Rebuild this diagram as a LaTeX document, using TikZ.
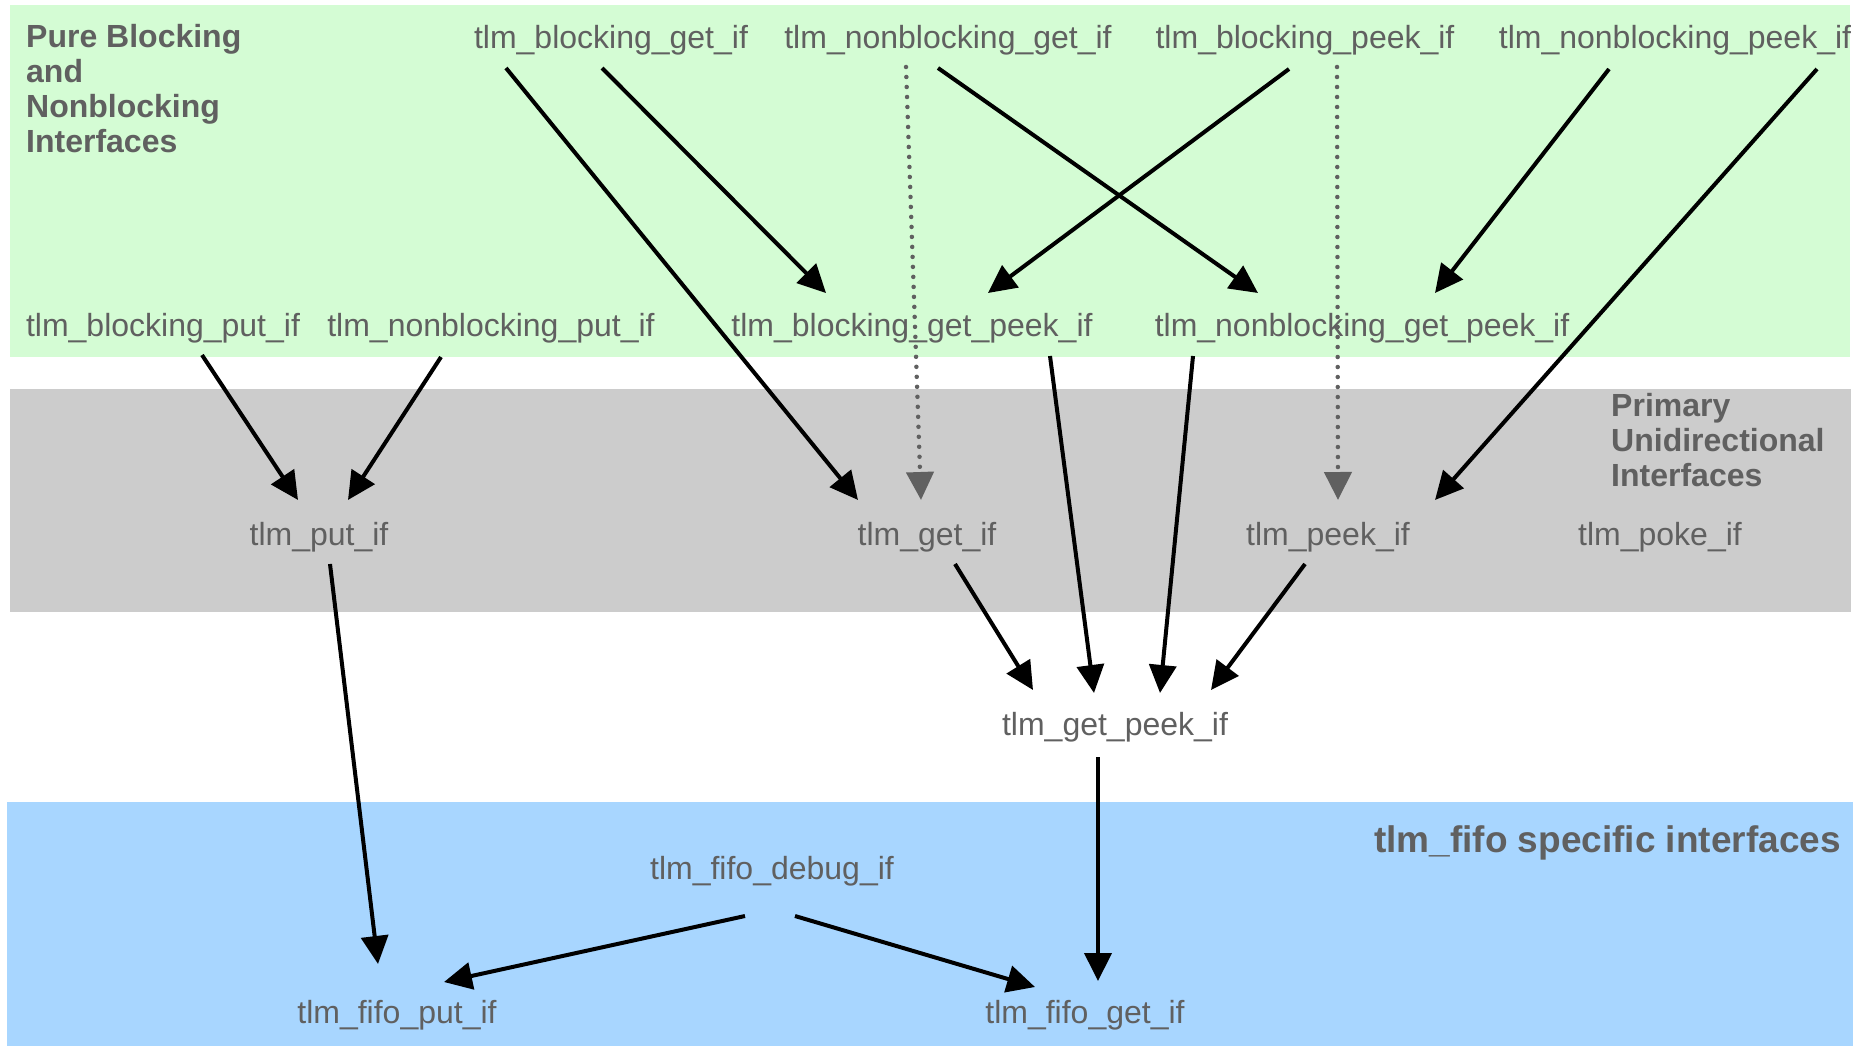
\documentclass[tikz,border=0pt]{standalone}
\usepackage{fontspec}
\setmainfont{Liberation Sans}
\usetikzlibrary{arrows.meta,calc}
\definecolor{bandgreen}{RGB}{212,252,212}
\definecolor{bandgray}{RGB}{204,204,204}
\definecolor{bandblue}{RGB}{168,214,255}
\definecolor{txtgray}{RGB}{96,96,96}
\begin{document}
\begin{tikzpicture}[x=1pt,y=-1pt,
  iface/.style={text=txtgray, font=\fontsize{32}{38}\selectfont, inner sep=0pt, anchor=base},
  bandtitle/.style={text=txtgray, font=\fontsize{32}{35}\selectfont\bfseries, inner sep=0pt, align=left, anchor=north west},
  arr/.style={line width=4pt, black, -{Triangle[length=28pt,width=27pt]}},
  dotarr/.style={line width=4.5pt, txtgray, line cap=round, dash pattern=on 0pt off 10pt, -{Triangle[length=28pt,width=27pt]}},
]
\useasboundingbox (0,0) rectangle (1873,1046);
% bands
\fill[bandgreen] (10,5) rectangle (1850,357);
\fill[bandgray] (10,389) rectangle (1851,612);
\fill[bandblue] (7,802) rectangle (1853,1046);
% band titles
\node[bandtitle] (t1) at (26,24.5) {Pure Blocking\\and\\Nonblocking\\Interfaces};
\node[bandtitle] (t2) at (1611,393.5) {Primary\\Unidirectional\\Interfaces};
\node[text=txtgray, font=\fontsize{37}{44}\selectfont\bfseries, inner sep=0pt, anchor=base east] (t3) at (1841,852) {tlm\_fifo specific interfaces};
% interface nodes
\node[iface] (bgi) at (611,49) {tlm\_blocking\_get\_if};
\node[iface] (ngi) at (948,49) {tlm\_nonblocking\_get\_if};
\node[iface] (bpi) at (1305,49) {tlm\_blocking\_peek\_if};
\node[iface] (npi) at (1675,49) {tlm\_nonblocking\_peek\_if};
\node[iface] (bpu) at (163,336) {tlm\_blocking\_put\_if};
\node[iface] (npu) at (491,336) {tlm\_nonblocking\_put\_if};
\node[iface] (bgp) at (912,336) {tlm\_blocking\_get\_peek\_if};
\node[iface] (ngp) at (1362,336) {tlm\_nonblocking\_get\_peek\_if};
\node[iface] (put) at (319,545) {tlm\_put\_if};
\node[iface] (get) at (927,545) {tlm\_get\_if};
\node[iface] (peek) at (1328,545) {tlm\_peek\_if};
\node[iface] (poke) at (1660,545) {tlm\_poke\_if};
\node[iface] (gp) at (1115,735) {tlm\_get\_peek\_if};
\node[iface] (dbg) at (772,879) {tlm\_fifo\_debug\_if};
\node[iface] (fput) at (397,1023) {tlm\_fifo\_put\_if};
\node[iface] (fget) at (1085,1023) {tlm\_fifo\_get\_if};
% connectors
\draw[arr] ($(bgi.base)+(-105,19)$) -- ($(get.base)+(-69,-45)$);
\draw[arr] ($(bgi.base)+(-9,19)$) -- ($(bgp.base)+(-86,-43)$);
\draw[dotarr] ($(ngi.base)+(-42,18)$) -- ($(get.base)+(-6,-45)$);
\draw[arr] ($(ngi.base)+(-10,19)$) -- ($(ngp.base)+(-104,-43)$);
\draw[arr] ($(bpi.base)+(-16,20)$) -- ($(bgp.base)+(76,-43)$);
\draw[dotarr] ($(bpi.base)+(32,18)$) -- ($(peek.base)+(10,-45)$);
\draw[arr] ($(npi.base)+(-66,20)$) -- ($(ngp.base)+(73,-43)$);
\draw[arr] ($(npi.base)+(142,20)$) -- ($(peek.base)+(107,-45)$);
\draw[arr] ($(bpu.base)+(39,19)$) -- ($(put.base)+(-21,-45)$);
\draw[arr] ($(npu.base)+(-50,21)$) -- ($(put.base)+(29,-45)$);
\draw[arr] ($(bgp.base)+(138,20)$) -- ($(gp.base)+(-21,-42)$);
\draw[arr] ($(ngp.base)+(-169,20)$) -- ($(gp.base)+(45,-42)$);
\draw[arr] ($(get.base)+(28,19)$) -- ($(gp.base)+(-82,-45)$);
\draw[arr] ($(peek.base)+(-23,19)$) -- ($(gp.base)+(96,-45)$);
\draw[arr] ($(put.base)+(11,19)$) -- ($(fput.base)+(-19,-59)$);
\draw[arr] ($(gp.base)+(-17,22)$) -- ($(fget.base)+(13,-42)$);
\draw[arr] ($(dbg.base)+(-27,37)$) -- ($(fput.base)+(47,-41)$);
\draw[arr] ($(dbg.base)+(23,37)$) -- ($(fget.base)+(-50,-36)$);
\end{tikzpicture}
\end{document}
